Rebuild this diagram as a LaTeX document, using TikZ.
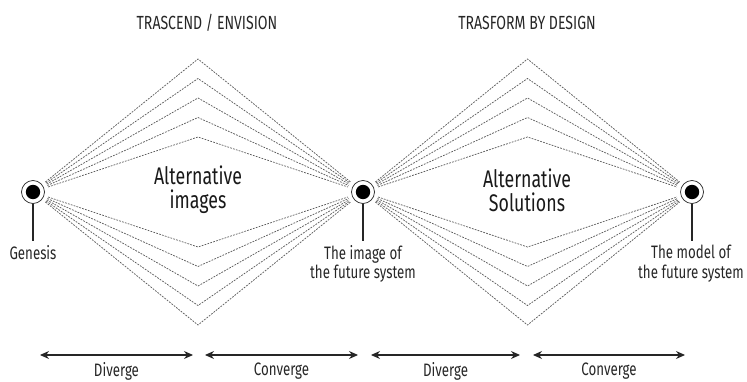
\documentclass[tikz,border=0pt]{standalone}
\usepackage{fontspec}
\setmainfont{Fira Sans}[FakeStretch=0.74]
\usepackage{xcolor}
\usetikzlibrary{arrows.meta}

\definecolor{ink}{HTML}{262626}
\definecolor{raygray}{HTML}{5E5E5E}

\begin{document}
\begin{tikzpicture}[x=1pt,y=-1pt,
    hub/.style={circle, draw=ink, line width=0.7pt, fill=white, minimum size=23pt, inner sep=0pt,
      path picture={\fill[black] (path picture bounding box.center) circle (7.2pt);}},
    ray/.style={raygray, line width=0.75pt, dash pattern=on 1.8pt off 1.2pt, shorten <=4pt, shorten >=4pt},
    stem/.style={ink, line width=1.9pt},
    lbl/.style={text=ink, align=center, inner sep=0pt, font=\fontsize{18}{19.5}\selectfont},
    head/.style={text=ink, inner sep=0pt, font=\fontsize{19}{20}\selectfont},
    big/.style={text=black!90, align=center, inner sep=0pt, font=\fontsize{24}{24}\selectfont},
    span/.style={ink, line width=1.1pt, {Stealth[length=9pt,width=8pt]}-{Stealth[length=9pt,width=8pt]}}]
    \useasboundingbox (0,0) rectangle (747,382);

    % the three states
    \node[hub] (gen) at (33,192) {};
    \node[hub] (img) at (363,192) {};
    \node[hub] (mdl) at (692,192) {};

    % dashed alternatives
    \foreach \d [count=\i] in {55,74.5,94,113.5,133} {
        \coordinate (ia\i) at (198,192-\d);
        \coordinate (ib\i) at (198,192+\d);
        \coordinate (sa\i) at (527.5,192-\d);
        \coordinate (sb\i) at (527.5,192+\d);
        \draw[ray] (gen) -- (ia\i) -- (img);
        \draw[ray] (gen) -- (ib\i) -- (img);
        \draw[ray] (img) -- (sa\i) -- (mdl);
        \draw[ray] (img) -- (sb\i) -- (mdl);
    }

    % stems and labels
    \coordinate (genfoot) at (33,241);
    \coordinate (imgfoot) at (363,241);
    \coordinate (mdlfoot) at (692,241);
    \draw[stem] (gen.south) -- (genfoot);
    \draw[stem] (img.south) -- (imgfoot);
    \draw[stem] (mdl.south) -- (mdlfoot);
    \node[lbl, anchor=north] (genlbl) at (33,245) {Genesis};
    \node[lbl, anchor=north] (imglbl) at (363,245) {The image of\\the future system};
    \node[lbl, anchor=north] (mdllbl) at (691,245) {The model of\\the future system};

    % titles
    \node[head] (envision) at (207,23) {TRASCEND / ENVISION};
    \node[head] (design) at (527,23) {TRASFORM BY DESIGN};
    \node[big] (images) at (198,190) {Alternative\\images};
    \node[big] (solutions) at (527,190) {Alternative\\Solutions};

    % phases
    \coordinate (d1a) at (40,355);  \coordinate (d1b) at (193,355);
    \coordinate (c1a) at (205,355); \coordinate (c1b) at (358,355);
    \coordinate (d2a) at (371,355); \coordinate (d2b) at (520,355);
    \coordinate (c2a) at (533,355); \coordinate (c2b) at (685,355);
    \draw[span] (d1a) -- node[lbl, below=7pt] {Diverge} (d1b);
    \draw[span] (c1a) -- node[lbl, below=7pt] {Converge} (c1b);
    \draw[span] (d2a) -- node[lbl, below=7pt] {Diverge} (d2b);
    \draw[span] (c2a) -- node[lbl, below=7pt] {Converge} (c2b);
\end{tikzpicture}
\end{document}
